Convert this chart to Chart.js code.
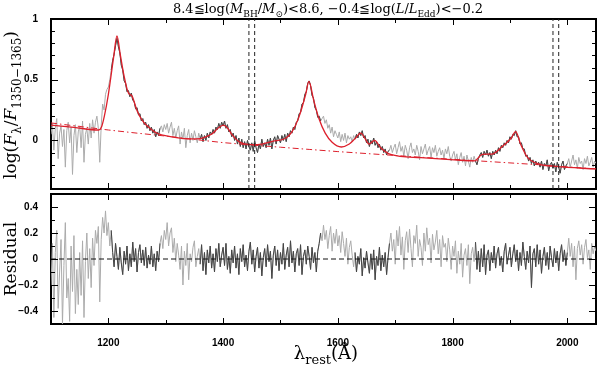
<!DOCTYPE html>
<html>
<head>
<meta charset="utf-8">
<script src="https://cdn.jsdelivr.net/npm/chart.js@4/dist/chart.umd.min.js"></script>
<style>
  body { margin: 0; background: #fff; }
  #wrap { position: relative; width: 600px; height: 369px; }
  #wrap canvas { position: absolute; left: 0; }
  #top { top: 0; }
  #bot { top: 180px; }
  .fr { position: absolute; background: #000; }
</style>
</head>
<body>
<div id="wrap">
  <canvas id="top" width="600" height="200"></canvas>
  <canvas id="bot" width="600" height="189"></canvas>
</div>
<script>
// сетка длин волн спектра, шаг 2.5 Å
const waveStart = 1100;
const waveStep = 2.5;

// log(F/F1350-1365) (строка = 25 Å)
const flux = [
  0.05, 0.14, -0.08, 0.10, 0.18, -0.15, 0.06, 0.12, -0.05, 0.09,
  -0.22, 0.08, 0.15, -0.02, 0.11, -0.28, 0.04, 0.13, -0.10, 0.07,
  0.12, -0.06, 0.16, -0.18, 0.05, 0.10, -0.03, 0.14, 0.02, 0.17,
  0.06, 0.15, 0.20, 0.10, -0.18, 0.12, 0.30, 0.25, 0.38, 0.42,
  0.44, 0.50, 0.58, 0.66, 0.71, 0.78, 0.84, 0.77, 0.72, 0.62,
  0.58, 0.49, 0.47, 0.40, 0.41, 0.36, 0.39, 0.33, 0.32, 0.26,
  0.27, 0.21, 0.22, 0.16, 0.18, 0.13, 0.15, 0.10, 0.13, 0.08,
  0.11, 0.06, 0.09, 0.03, 0.07, 0.04, 0.10, 0.12, 0.07, 0.13,
  0.09, 0.14, 0.06, 0.11, 0.15, 0.04, 0.10, 0.02, 0.08, 0.12,
  -0.03, 0.07, 0.01, 0.10, -0.06, 0.04, 0.09, -0.02, 0.06, 0.00,
  0.08, 0.03, -0.02, 0.06, 0.01, 0.05, -0.01, 0.04, 0.00, 0.06,
  0.02, 0.07, 0.05, 0.09, 0.06, 0.11, 0.09, 0.14, 0.10, 0.15,
  0.12, 0.16, 0.10, 0.13, 0.07, 0.09, 0.03, 0.06, 0.00, 0.04,
  -0.03, 0.02, -0.05, 0.01, -0.06, -0.01, -0.07, 0.00, -0.05, -0.08,
  -0.02, -0.09, 0.00, -0.06, -0.10, -0.03, -0.07, 0.01, -0.05, -0.02,
  -0.06, 0.01, -0.04, 0.02, -0.07, 0.00, 0.03, -0.03, 0.04, 0.01,
  -0.02, 0.04, 0.00, 0.05, -0.01, 0.06, 0.03, 0.08, 0.06, 0.11,
  0.09, 0.15, 0.16, 0.22, 0.23, 0.30, 0.31, 0.38, 0.40, 0.47,
  0.49, 0.45, 0.37, 0.35, 0.27, 0.25, 0.19, 0.20, 0.16, 0.18,
  0.20, 0.14, 0.17, 0.10, 0.13, 0.06, 0.11, 0.03, 0.08, 0.05,
  0.02, 0.07, -0.01, 0.05, 0.00, 0.06, -0.02, 0.04, 0.01, 0.03,
  -0.01, 0.04, 0.01, 0.05, 0.02, 0.07, 0.04, 0.08, 0.02, 0.04,
  -0.02, 0.01, -0.05, 0.00, -0.03, 0.02, -0.04, -0.01, -0.06, -0.03,
  -0.08, -0.05, -0.10, -0.07, -0.12, -0.09, -0.08, -0.04, -0.10, -0.06,
  -0.03, -0.11, -0.06, -0.01, -0.09, -0.05, -0.13, -0.04, -0.08, -0.15,
  -0.06, -0.02, -0.10, -0.07, -0.12, -0.04, -0.09, -0.16, -0.05, -0.11,
  -0.07, -0.03, -0.12, -0.08, -0.05, -0.14, -0.06, -0.10, -0.04, -0.13,
  -0.09, -0.06, -0.12, -0.08, -0.15, -0.07, -0.11, -0.05, -0.13, -0.17,
  -0.12, -0.09, -0.16, -0.11, -0.20, -0.14, -0.10, -0.18, -0.13, -0.21,
  -0.12, -0.17, -0.22, -0.14, -0.18, -0.13, -0.17, -0.20, -0.15, -0.12,
  -0.10, -0.14, -0.09, -0.12, -0.08, -0.13, -0.10, -0.15, -0.09, -0.12,
  -0.08, -0.11, -0.06, -0.09, -0.04, -0.06, -0.02, -0.04, 0.00, -0.02,
  0.03, 0.01, 0.05, 0.04, 0.08, 0.03, 0.03, -0.03, -0.02, -0.07,
  -0.07, -0.13, -0.12, -0.17, -0.14, -0.19, -0.16, -0.21, -0.17, -0.20,
  -0.18, -0.22, -0.17, -0.24, -0.19, -0.21, -0.16, -0.25, -0.20, -0.18,
  -0.23, -0.19, -0.26, -0.18, -0.22, -0.27, -0.20, -0.17, -0.24, -0.21,
  -0.19, -0.15, -0.22, -0.17, -0.12, -0.20, -0.16, -0.23, -0.14, -0.19,
  -0.17, -0.24, -0.15, -0.19, -0.13, -0.21, -0.18, -0.14, -0.22, -0.17,
  -0.19
];

// остатки (нижняя панель)
const resid = [
  -0.20, 0.12, -0.45, 0.05, 0.22, -0.38, -0.10, 0.15, -0.50, -0.05,
  0.28, -0.30, -0.15, -0.48, 0.10, -0.25, 0.18, -0.42, -0.08, -0.35,
  0.05, -0.28, 0.14, -0.45, -0.02, 0.20, -0.15, 0.08, -0.22, 0.16,
  -0.05, 0.22, 0.12, 0.25, -0.33, 0.15, 0.32, 0.20, 0.37, 0.18,
  0.28, 0.10, 0.22, 0.05, -0.06, 0.12, 0.02, -0.08, 0.09, -0.03,
  -0.12, 0.06, -0.04, 0.10, -0.09, 0.04, -0.06, 0.13, -0.02, 0.08,
  -0.10, 0.05, 0.11, -0.03, 0.07, -0.05, 0.09, -0.07, 0.03, -0.04,
  0.10, -0.06, 0.04, -0.09, 0.06, -0.02, 0.12, 0.18, 0.08, 0.22,
  0.15, 0.28, 0.10, 0.20, 0.24, 0.05, 0.16, -0.02, 0.12, 0.03,
  -0.08, 0.10, -0.20, 0.06, -0.05, 0.12, -0.16, 0.04, -0.02, 0.09,
  0.14, -0.06, 0.02, 0.08, -0.04, 0.11, -0.09, 0.05, -0.12, 0.07,
  -0.03, 0.10, -0.07, 0.04, -0.10, 0.08, -0.02, 0.12, -0.06, 0.03,
  0.09, -0.05, 0.12, -0.08, 0.02, -0.11, 0.07, -0.03, 0.10, -0.07,
  0.04, -0.12, 0.08, -0.02, 0.11, -0.06, 0.03, -0.09, 0.06, 0.13,
  -0.04, 0.07, -0.10, 0.02, 0.09, -0.07, 0.05, -0.13, 0.01, 0.08,
  -0.06, 0.11, -0.02, 0.06, -0.15, 0.03, 0.10, -0.05, 0.07, -0.09,
  0.05, -0.04, 0.12, -0.08, 0.03, 0.09, -0.06, 0.14, -0.03, 0.06,
  -0.10, 0.04, 0.08, -0.05, 0.11, -0.12, 0.02, 0.07, -0.04, 0.10,
  0.02, -0.08, 0.09, -0.03, 0.05, -0.10, 0.06, 0.12, 0.20, 0.14,
  0.26, 0.15, 0.22, 0.08, 0.18, 0.25, 0.06, 0.20, 0.12, 0.23,
  0.10, 0.18, 0.05, 0.21, 0.12, 0.02, 0.16, -0.04, 0.09, 0.14,
  0.03, -0.06, 0.05, -0.10, 0.02, -0.04, 0.08, -0.13, 0.01, -0.07,
  0.06, -0.03, -0.11, 0.04, -0.08, 0.07, -0.16, 0.02, -0.05, 0.09,
  -0.09, 0.03, -0.06, 0.05, -0.12, 0.01, 0.12, 0.20, 0.06, 0.15,
  -0.04, 0.22, 0.10, 0.25, 0.03, 0.17, -0.08, 0.14, 0.21, 0.05,
  0.23, 0.08, -0.06, 0.18, 0.12, 0.26, 0.02, 0.15, 0.09, -0.05,
  0.20, 0.06, 0.24, 0.11, 0.16, -0.03, 0.19, 0.07, 0.13, 0.22,
  0.04, 0.15, -0.06, 0.18, 0.09, 0.12, -0.02, 0.16, 0.07, -0.08,
  0.10, 0.02, 0.14, -0.11, 0.06, -0.04, 0.12, -0.14, 0.03, 0.08,
  -0.05, 0.11, -0.19, 0.04, 0.09, -0.02, 0.13, -0.08, 0.06, -0.10,
  0.08, -0.06, 0.11, -0.12, 0.03, 0.07, -0.09, 0.05, -0.03, 0.10,
  -0.07, 0.04, 0.09, -0.05, 0.02, -0.10, 0.06, 0.12, -0.04, 0.03,
  0.09, -0.06, 0.04, 0.11, -0.02, 0.07, -0.09, 0.05, -0.05, 0.13,
  0.02, -0.08, 0.06, -0.03, 0.10, -0.22, 0.04, 0.08, -0.06, 0.11,
  -0.04, 0.07, -0.11, 0.02, 0.09, -0.05, 0.05, -0.08, 0.10, 0.01,
  -0.06, 0.08, -0.03, 0.06, -0.09, 0.04, 0.11, -0.02, 0.07, -0.05,
  0.05, 0.16, 0.02, 0.12, -0.06, 0.10, -0.16, 0.08, 0.14, 0.03,
  0.11, -0.04, 0.09, 0.15, 0.01, 0.07, -0.08, 0.12, 0.04, 0.10,
  0.06
];

// модель (красная сплошная)
const fitWave = [1100, 1140, 1183, 1188, 1193, 1200, 1209, 1215, 1221, 1227, 1235, 1241, 1250, 1261, 1273, 1285, 1308, 1343, 1360, 1370, 1381, 1392, 1401, 1408, 1416, 1427, 1450, 1468, 1486, 1509, 1520, 1532, 1544, 1549.5, 1558, 1567, 1578, 1590, 1606, 1620, 1630, 1640, 1648, 1654, 1664, 1675, 1692, 1745, 1803, 1838, 1852, 1869, 1887, 1902, 1910, 1919, 1931, 1951, 1980, 2050];
const fitFlux = [0.126, 0.107, 0.086, 0.11, 0.20, 0.38, 0.68, 0.86, 0.70, 0.54, 0.39, 0.367, 0.245, 0.152, 0.099, 0.059, 0.032, 0.012, 0.015, 0.03, 0.055, 0.105, 0.126, 0.10, 0.045, -0.008, -0.035, -0.03, -0.008, 0.018, 0.07, 0.19, 0.38, 0.487, 0.33, 0.18, 0.06, -0.015, -0.054, -0.03, 0.015, 0.06, 0.01, -0.03, 0.0, -0.062, -0.115, -0.142, -0.16, -0.169, -0.115, -0.112, -0.048, 0.018, 0.072, -0.035, -0.142, -0.195, -0.214, -0.235];

// континуум (штрих-пунктир)
const contWave = [1100, 1150, 1200, 1250, 1300, 1350, 1400, 1450, 1500, 1550, 1600, 1650, 1700, 1750, 1800, 1850, 1900, 1950, 2000, 2050];
const contFlux = [0.144, 0.115, 0.086, 0.06, 0.036, 0.008, -0.018, -0.038, -0.056, -0.074, -0.092, -0.108, -0.124, -0.14, -0.155, -0.17, -0.185, -0.2, -0.218, -0.235];

// окна фита (тёмно-серые участки)
const fitWindows = [[1205, 1290], [1360, 1570], [1630, 1690], [1840, 2000]];
// вертикальные пунктиры
const vLines = [1445, 1455, 1975, 1985];

// оси и тики
const xMin = 1100, xMax = 2050;
const topMin = -0.4, topMax = 1;
const resMin = -0.5, resMax = 0.5;
const xLabels = [1200, 1400, 1600, 1800, 2000];
const xMinor = [1300, 1500, 1700, 1900];
const yTopLabels = [0, 0.5, 1];
const yTopMinor = [-0.3, -0.2, -0.1, 0.1, 0.2, 0.3, 0.4, 0.6, 0.7, 0.8, 0.9];
const yResLabels = [-0.4, -0.2, 0, 0.2, 0.4];
const yResMinor = [-0.3, -0.1, 0.1, 0.3];

const wave = flux.map((_, i) => waveStart + i * waveStep);
const inWin = (w) => fitWindows.some(([a, b]) => w >= a && w <= b);

const LIGHT = "#ababab";
const DARK = "#444";
const RED = "#dd1f2b";
const SERIF = "'DejaVu Serif', serif";
const tickFont = { family: "'Liberation Sans', Arial, sans-serif", size: 10, weight: "bold" };
const fmt = (v) => (v < 0 ? "\u2212" + Math.abs(v) : String(v));
const frameBorder = { display: true, color: "#000", width: 2 };

// текст с индексами
function drawRich(ctx, parts, x, y, size, angle) {
  ctx.save();
  ctx.translate(x, y);
  ctx.rotate(angle || 0);
  const fontOf = (p) => (p.i ? "italic " : "") + (p.sub ? Math.round(size * 0.72) : size) + "px " + SERIF;
  let w = 0;
  parts.forEach((p) => { ctx.font = fontOf(p); w += ctx.measureText(p.t).width; });
  let cx = -w / 2;
  ctx.fillStyle = "#000";
  ctx.textAlign = "left";
  ctx.textBaseline = "alphabetic";
  parts.forEach((p) => {
    ctx.font = fontOf(p);
    ctx.fillText(p.t, cx, p.sub ? size * 0.3 : 0);
    cx += ctx.measureText(p.t).width;
  });
  ctx.restore();
}

const labelsPlugin = (texts) => ({
  id: "richLabels",
  afterDraw(chart) {
    texts.forEach((it) => drawRich(chart.ctx, it.parts, it.x, it.y, it.size, it.angle));
  },
});

function yScale(min, max, labels) {
  return {
    min: min,
    max: max,
    grid: { display: false },
    border: frameBorder,
    afterFit: (s) => { s.width = 51; },
    afterBuildTicks: (s) => { s.ticks = labels.map((v) => ({ value: v })); },
    ticks: { padding: 5, color: "#000", font: tickFont, autoSkip: false, callback: (v) => fmt(v) },
  };
}

// пустые оси сверху и справа — только для линии рамки
const edgeAxis = (axis, position, min, max) => ({
  type: "linear",
  axis: axis,
  position: position,
  min: min,
  max: max,
  grid: { display: false },
  border: frameBorder,
  ticks: { display: false },
  afterFit: (s) => { if (axis === "x") s.height = 0; else s.width = 0; },
});

const line = (data, color, width, extra) =>
  Object.assign({ data: data, borderColor: color, borderWidth: width, pointRadius: 0, fill: false, spanGaps: false }, extra || {});

const vDatasets = vLines.map((v) =>
  line([{ x: v, y: topMin }, { x: v, y: topMax }], "#222", 1, { borderDash: [4, 3], order: 0 })
);

const topTexts = [
  {
    parts: [
      { t: "8.4\u2266log(" }, { t: "M", i: 1 }, { t: "BH", sub: 1 }, { t: "/" }, { t: "M", i: 1 }, { t: "\u2299", sub: 1 },
      { t: ")<8.6, \u22120.4\u2266log(" }, { t: "L", i: 1 }, { t: "/" }, { t: "L", i: 1 }, { t: "Edd", sub: 1 }, { t: ")<\u22120.2" },
    ],
    x: 328, y: 13, size: 13,
  },
  {
    parts: [
      { t: "log(" }, { t: "F", i: 1 }, { t: "\u03bb", sub: 1 }, { t: "/" }, { t: "F", i: 1 }, { t: "1350\u22121365", sub: 1 }, { t: ")" },
    ],
    x: 16, y: 105, size: 17, angle: -Math.PI / 2,
  },
];

const botTexts = [
  { parts: [{ t: "Residual" }], x: 16, y: 79, size: 17, angle: -Math.PI / 2 },
  { parts: [{ t: "\u03bb" }, { t: "rest", sub: 1 }, { t: "(\u00c5)" }], x: 326, y: 179, size: 18 },
];

const topChart = new Chart(document.getElementById("top"), {
  type: "line",
  data: {
    datasets: [
      ...vDatasets,
      line(fitWave.map((w, i) => ({ x: w, y: fitFlux[i] })), RED, 1.3, { order: 1, cubicInterpolationMode: "monotone" }),
      line(contWave.map((w, i) => ({ x: w, y: contFlux[i] })), RED, 1, { order: 2, borderDash: [6, 3, 1.5, 3] }),
      line(wave.map((w, i) => ({ x: w, y: inWin(w) ? flux[i] : null })), DARK, 1, { order: 3 }),
      line(wave.map((w, i) => ({ x: w, y: flux[i] })), LIGHT, 1, { order: 4 }),
    ],
  },
  options: {
    responsive: false,
    animation: false,
    devicePixelRatio: 1,
    layout: { padding: { top: 19, right: 4, bottom: 0, left: 0 } },
    plugins: { legend: { display: false }, tooltip: { enabled: false } },
    scales: {
      x: {
        type: "linear", min: xMin, max: xMax, position: "bottom",
        grid: { display: false }, border: frameBorder, ticks: { display: false },
        afterFit: (s) => { s.height = 0; },
      },
      x2: edgeAxis("x", "top", xMin, xMax),
      y: yScale(topMin, topMax, yTopLabels),
      y2: edgeAxis("y", "right", topMin, topMax),
    },
  },
  plugins: [labelsPlugin(topTexts)],
});

const botChart = new Chart(document.getElementById("bot"), {
  type: "line",
  data: {
    datasets: [
      line([{ x: xMin, y: 0 }, { x: xMax, y: 0 }], "#111", 1, { borderDash: [5, 3], order: 0 }),
      line(wave.map((w, i) => ({ x: w, y: inWin(w) ? resid[i] : null })), DARK, 1, { order: 1 }),
      line(wave.map((w, i) => ({ x: w, y: resid[i] })), LIGHT, 1, { order: 2 }),
    ],
  },
  options: {
    responsive: false,
    animation: false,
    devicePixelRatio: 1,
    layout: { padding: { top: 14, right: 4, bottom: 0, left: 0 } },
    plugins: { legend: { display: false }, tooltip: { enabled: false } },
    scales: {
      x: {
        type: "linear",
        min: xMin,
        max: xMax,
        grid: { display: false },
        border: frameBorder,
        afterFit: (s) => { s.height = 45; },
        afterBuildTicks: (s) => { s.ticks = xLabels.map((v) => ({ value: v })); },
        ticks: { padding: 5, color: "#000", font: tickFont, autoSkip: false, maxRotation: 0, callback: (v) => String(v) },
      },
      x2: edgeAxis("x", "top", xMin, xMax),
      y: yScale(resMin, resMax, yResLabels),
      y2: edgeAxis("y", "right", resMin, resMax),
    },
  },
  plugins: [labelsPlugin(botTexts)],
});

// внутренние тики поверх холстов, по пикселям шкал Chart.js
function addTicks(chart, offset, yMajor, yMinor) {
  const wrap = document.getElementById("wrap");
  const a = chart.chartArea;
  const x = chart.scales.x, y = chart.scales.y;
  const box = (l, t, w, h) => {
    const d = document.createElement("div");
    d.className = "fr";
    d.style.left = l + "px";
    d.style.top = t + offset + "px";
    d.style.width = w + "px";
    d.style.height = h + "px";
    wrap.appendChild(d);
  };
  const L = Math.round(a.left), R = Math.round(a.right), T = Math.round(a.top), B = Math.round(a.bottom);
  const xt = (v, len) => {
    const p = Math.round(x.getPixelForValue(v));
    box(p - 0.5, T, 1.4, len);
    box(p - 0.5, B - len, 1.4, len);
  };
  xLabels.forEach((v) => xt(v, 6));
  xMinor.forEach((v) => xt(v, 4));
  const yt = (v, len) => {
    const p = Math.round(y.getPixelForValue(v));
    box(L, p - 0.5, len, 1.4);
    box(R - len, p - 0.5, len, 1.4);
  };
  yMajor.forEach((v) => yt(v, 7));
  yMinor.forEach((v) => yt(v, 4));
}

addTicks(topChart, 0, yTopLabels, yTopMinor);
addTicks(botChart, 180, yResLabels, yResMinor);
</script>
</body>
</html>
